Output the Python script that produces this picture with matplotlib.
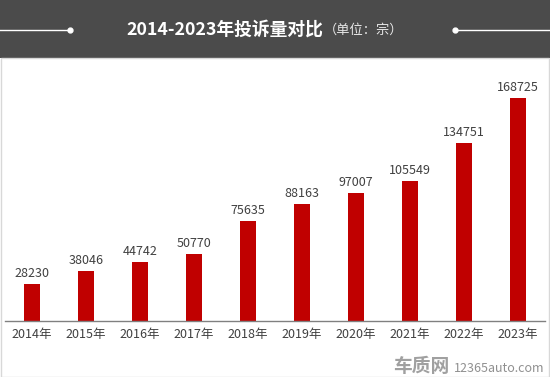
import matplotlib
matplotlib.use("Agg")
import matplotlib.pyplot as plt
from matplotlib.patches import Rectangle
from matplotlib.lines import Line2D

plt.rcParams['font.family'] = ['Noto Sans CJK SC', 'DejaVu Sans']

years = ["2014年", "2015年", "2016年", "2017年", "2018年", "2019年", "2020年", "2021年", "2022年", "2023年"]
values = [28230, 38046, 44742, 50770, 75635, 88163, 97007, 105549, 134751, 168725]
title = "2014-2023年投诉量对比"
unit = "（单位：宗）"

W, H = 550, 377
fig = plt.figure(figsize=(W / 100, H / 100), dpi=100)
fig.patch.set_facecolor("white")

# header band
fig.add_artist(Rectangle((0, 1 - 58 / H), 1, 58 / H, transform=fig.transFigure,
                         facecolor="#4b4b4b", edgecolor="none", zorder=0))
# border of white area
fig.add_artist(Rectangle((0.5 / W, 0.5 / H), (W - 1.5) / W, (H - 58.5) / H, transform=fig.transFigure,
                         facecolor="none", edgecolor="#d8d8d8", lw=1, zorder=1))
yh = 1 - 30 / H
fig.add_artist(Line2D([0, 70 / W], [yh, yh], transform=fig.transFigure, color="white", lw=1))
fig.add_artist(Line2D([455 / W, 1], [yh, yh], transform=fig.transFigure, color="white", lw=1))
fig.add_artist(Line2D([70 / W], [yh], transform=fig.transFigure, color="white", marker="o", ms=3.5, lw=0))
fig.add_artist(Line2D([455 / W], [yh], transform=fig.transFigure, color="white", marker="o", ms=3.5, lw=0))
fig.text(323 / W, yh, title, color="white", fontsize=12.8, fontweight="bold", ha="right", va="center")
fig.text(324 / W, yh, unit, color="#e8e8e8", fontsize=9.5, ha="left", va="center")

# axes
left, right = 5, 545
bottom_px, top_px = 321, 60
ax = fig.add_axes([left / W, 1 - bottom_px / H, (right - left) / W, (bottom_px - top_px) / H])
ax.set_facecolor("none")
x = list(range(len(years)))
ax.bar(x, values, width=0.3, color="#c00000", zorder=2)
ax.set_xlim(-0.5, len(years) - 0.5)
ymax = 168725 / 223 * (bottom_px - top_px)
ax.set_ylim(0, ymax)
for xi, v in zip(x, values):
    ax.annotate(str(v), (xi, v), xytext=(0, 3), textcoords="offset points",
                ha="center", va="bottom", fontsize=9, color="#404040")
ax.set_xticks(x)
ax.set_xticklabels(years, fontsize=9, color="#404040")
ax.tick_params(axis="x", length=0, pad=5)
ax.set_yticks([])
for s in ["top", "right", "left"]:
    ax.spines[s].set_visible(False)
ax.spines["bottom"].set_color("#808080")
ax.spines["bottom"].set_linewidth(1)

# watermark
fig.text(449 / W, 1 - 367 / H, "车质网", color="#a0a0a0", fontsize=13.5, fontweight="bold",
         ha="right", va="center")
fig.text(544 / W, 1 - 368 / H, "12365auto.com", color="#909090", fontsize=9,
         ha="right", va="center")

fig.savefig("out.png", dpi=100)
